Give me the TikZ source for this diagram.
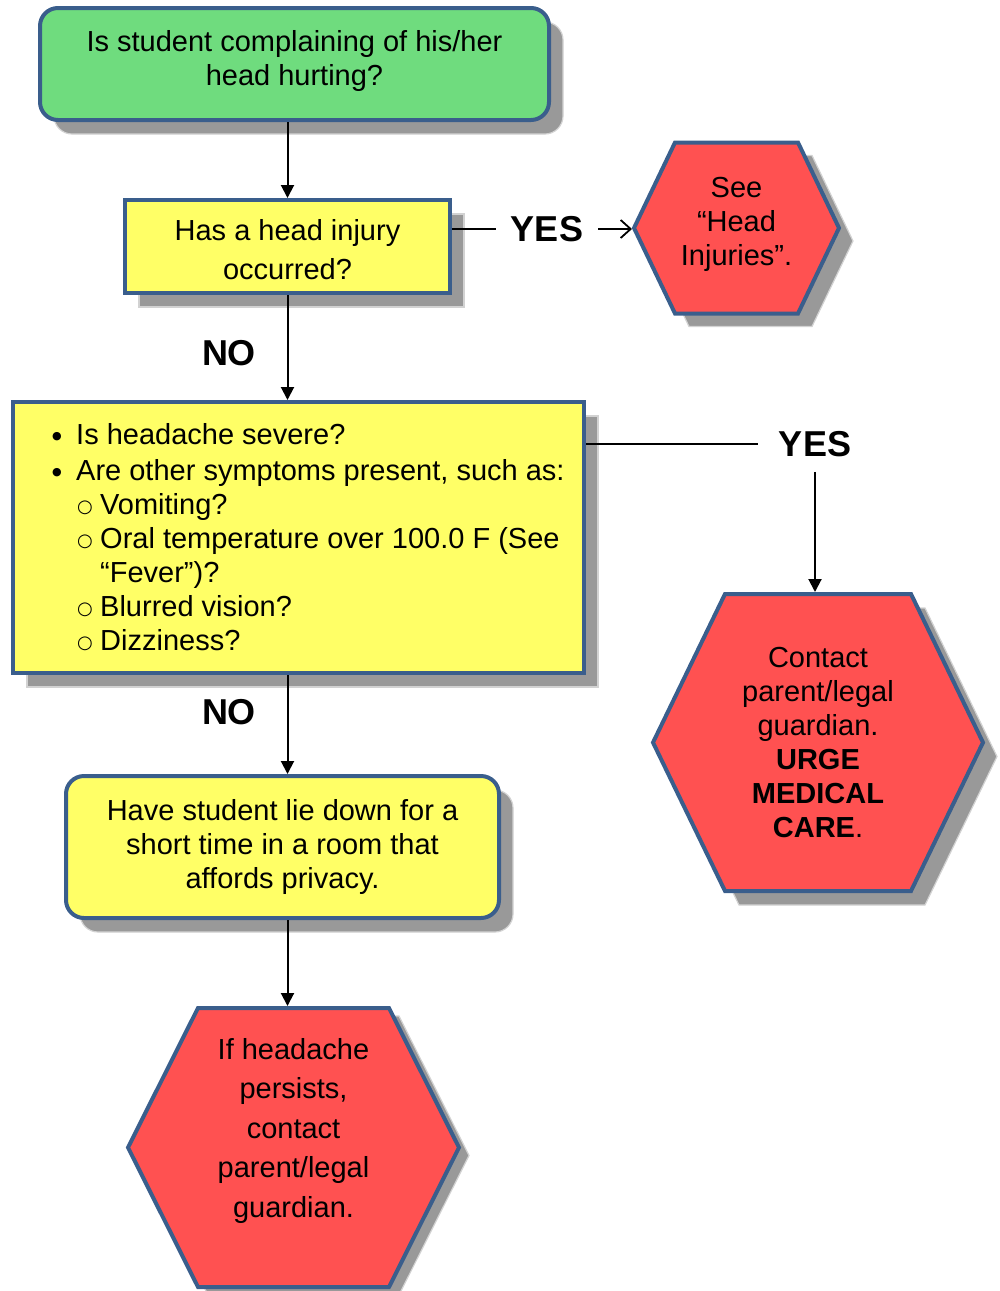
\documentclass[tikz,border=0pt]{standalone}
\usepackage{fontspec}
\setmainfont{Liberation Sans}
\newfontfamily\symbolfont{DejaVu Sans}
\usetikzlibrary{arrows.meta,shadows,backgrounds}

\definecolor{boxgreen}{HTML}{6FDC7E}
\definecolor{boxyellow}{HTML}{FFFF66}
\definecolor{boxred}{HTML}{FF5151}
\definecolor{edgeblue}{HTML}{3A5E8C}
\definecolor{shadowgray}{HTML}{999999}
\definecolor{shadowedge}{HTML}{D2D2D2}

% list markers
\newcommand{\solidbullet}{\raisebox{4.5pt}{\symbolfont\fontsize{11}{11}\selectfont ●}}
\newcommand{\hollowdot}{\raisebox{1.5pt}{\symbolfont\fontsize{18}{18}\selectfont ○}}

\tikzset{
  body/.style={font=\fontsize{29}{34}\selectfont, align=center, inner sep=0pt},
  boxshadow/.style={general shadow={fill=shadowgray, draw=shadowedge, line width=1.2pt,
      shadow xshift=14pt, shadow yshift=-14pt}},
  card/.style={body, draw=edgeblue, line width=4pt, boxshadow},
  greenbox/.style={card, fill=boxgreen, rounded corners=18pt},
  yellowbox/.style={card, fill=boxyellow},
  hexnode/.style={body, outer sep=0pt},
  listtext/.style={font=\fontsize{29}{34}\selectfont, align=left, inner sep=0pt, anchor=north west},
  yeslabel/.style={font=\fontsize{36}{40}\selectfont\bfseries, inner xsep=15pt, inner ysep=0pt},
  nolabel/.style={font=\fontsize{36}{40}\selectfont\bfseries, inner sep=0pt},
  plain/.style={line width=2pt},
  conn/.style={line width=2pt, -{Triangle[length=13pt,width=13pt]}},
  barb/.style={line width=1.8pt, -{Straight Barb[length=10pt,width=18pt]}},
  hexshadow/.style={fill=shadowgray, draw=shadowedge, line width=1.2pt},
  hexfill/.style={fill=boxred, draw=edgeblue, line width=4pt},
  % hexagon outline around a node: node, corner inset, x offset, y offset
  hexagon/.style n args={4}{insert path={
    ([shift={(#3,#4)}]#1.west) -- ([shift={(#2+#3,#4)}]#1.north west)
    -- ([shift={(-#2+#3,#4)}]#1.north east) -- ([shift={(#3,#4)}]#1.east)
    -- ([shift={(-#2+#3,#4)}]#1.south east) -- ([shift={(#2+#3,#4)}]#1.south west) -- cycle}}
}

\begin{document}
\begin{tikzpicture}[x=1pt, y=-1pt]
\useasboundingbox (0,0) rectangle (1000,1291);

% boxes
\node[greenbox, minimum width=509pt, minimum height=112pt] (start) at (294.5,64)
  {Is student complaining of his/her\\head hurting?\\[-22pt]\mbox{}};
\node[yellowbox, minimum width=325pt, minimum height=93pt, font=\fontsize{29}{39}\selectfont]
  (injury) at (287.5,246.5) {\mbox{}\\[-12pt]Has a head injury\\occurred?};
\node[yellowbox, minimum width=571pt, minimum height=271pt] (symptoms) at (298.5,537.5) {};
\node[listtext] (symptomlist) at (52,423) {%
  \makebox[24pt][l]{\solidbullet}Is headache severe?\\[2pt]
  \makebox[24pt][l]{\solidbullet}Are other symptoms present, such as:\\
  \hspace*{25pt}\makebox[23pt][l]{\hollowdot}Vomiting?\\
  \hspace*{25pt}\makebox[23pt][l]{\hollowdot}Oral temperature over 100.0 F (See\\
  \hspace*{48pt}“Fever”)?\\
  \hspace*{25pt}\makebox[23pt][l]{\hollowdot}Blurred vision?\\
  \hspace*{25pt}\makebox[23pt][l]{\hollowdot}Dizziness?};
\node[yellowbox, rounded corners=18pt, minimum width=433pt, minimum height=142pt] (rest)
  at (282.5,847) {Have student lie down for a\\short time in a room that\\affords privacy.};

% hexagon outcomes
\node[hexnode, minimum width=205pt, minimum height=171pt] (headinj) at (736.5,228)
  {See\\“Head\\Injuries”.\\[-20pt]\mbox{}};
\node[hexnode, minimum width=330pt, minimum height=297pt] (medical) at (818,742.5)
  {Contact\\parent/legal\\guardian.\\\textbf{URGE}\\\textbf{MEDICAL}\\\textbf{CARE}.};
\node[hexnode, minimum width=331pt, minimum height=279pt, font=\fontsize{29}{39.5}\selectfont]
  (persist) at (293.5,1147.5) {If headache\\persists,\\contact\\parent/legal\\guardian.\\\mbox{}};

\begin{scope}[on background layer]
  \path[hexshadow, hexagon={headinj}{41}{14}{13}];
  \path[hexfill, hexagon={headinj}{41}{0}{0}];
  \path[hexshadow, hexagon={medical}{72}{14}{14}];
  \path[hexfill, hexagon={medical}{72}{0}{0}];
  \path[hexshadow, hexagon={persist}{70}{10}{8}];
  \path[hexfill, hexagon={persist}{70}{0}{0}];
\end{scope}

% branch labels
\node[yeslabel] (yes1) at (547,229) {YES};
\node[yeslabel, inner xsep=21pt, inner ysep=15pt] (yes2) at (815,444) {YES};
\node[nolabel] (no1) at (229,353) {NO};
\node[nolabel] (no2) at (229,712) {NO};

% connectors
\draw[conn] (start.south -| injury.north) -- (injury.north);
\draw[conn] (injury.south) -- (injury.south |- symptoms.north);
\draw[conn] (symptoms.south -| injury.south) -- (injury.south |- rest.north);
\draw[conn, shorten >=2pt] (rest.south -| injury.south) -- (injury.south |- persist.north);
\draw[plain] (injury.east |- yes1) -- (yes1.west);
\draw[barb, shorten >=2pt] (yes1.east) -- (headinj.west |- yes1);
\draw[plain] (symptoms.east |- yes2) -- (yes2.west);
\draw[conn, shorten >=2pt] (yes2.south) -- (yes2.south |- medical.north);
\end{tikzpicture}
\end{document}
